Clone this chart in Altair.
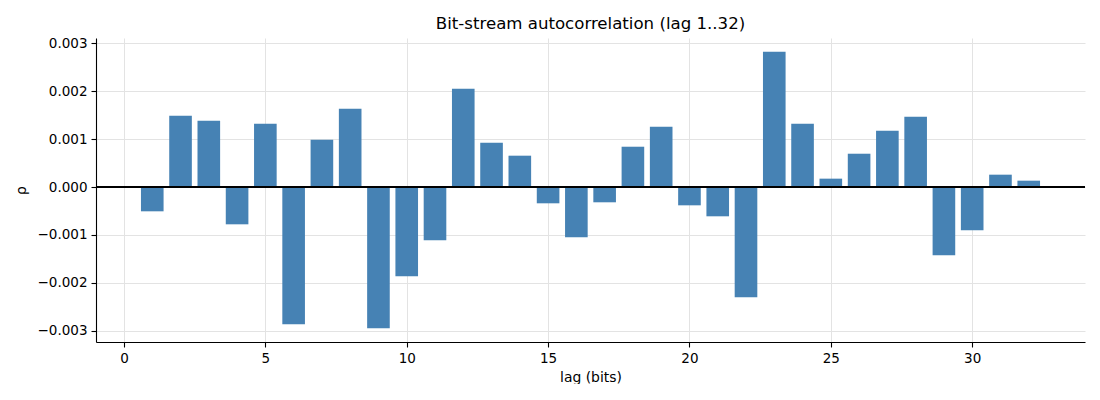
import altair as alt
import pandas as pd

lags = list(range(1, 33))
rho = [
    -0.000507, 0.001486, 0.001382, -0.000778, 0.001319, -0.002861, 0.000986, 0.001632,
    -0.002944, -0.001861, -0.001111, 0.002049, 0.000924, 0.000653, -0.000340, -0.001049,
    -0.000319, 0.000840, 0.001257, -0.000382, -0.000611, -0.002299, 0.002819, 0.001319,
    0.000174, 0.000694, 0.001174, 0.001465, -0.001424, -0.000903, 0.000257, 0.000132,
]

df = pd.DataFrame({"lag": lags, "rho": rho})

FONT = "DejaVu Sans"
x_scale = alt.Scale(domain=[-0.99, 33.99], nice=False, zero=False)
y_scale = alt.Scale(domain=[-0.003232, 0.003107], nice=False, zero=False)

bars = alt.Chart(df).transform_calculate(
    x0="datum.lag - 0.4", x1="datum.lag + 0.4"
).mark_rect(color="#4682b4").encode(
    x=alt.X("x0:Q", scale=x_scale,
            axis=alt.Axis(values=[0, 5, 10, 15, 20, 25, 30], title="lag (bits)", format="d")),
    x2="x1:Q",
    y=alt.Y("rho:Q", scale=y_scale,
            axis=alt.Axis(values=[-0.003, -0.002, -0.001, 0, 0.001, 0.002, 0.003],
                          format=".3f", title="ρ",
                          labelExpr="replace(format(datum.value, '.3f'), '-', '−')")),
    y2=alt.datum(0),
)

zero = alt.Chart(df).mark_rule(color="black", strokeWidth=0.8).encode(
    y=alt.datum(0)
)

chart = alt.layer(bars, zero).properties(
    width=989, height=304,
    title=alt.TitleParams("Bit-stream autocorrelation (lag 1..32)", fontSize=16.6,
                          font=FONT, fontWeight="normal", color="black", anchor="middle", offset=4),
    autosize=alt.AutoSizeParams(type="none"),
    padding={"left": 88, "top": 30, "right": 7, "bottom": 42},
).configure_view(stroke=None).configure_axis(
    labelFont=FONT, titleFont=FONT, labelFontSize=13.5, titleFontSize=13.9,
    labelColor="black", titleColor="black", titleFontWeight="normal",
    domainColor="black", domainWidth=1.1, tickColor="black", tickSize=5, tickWidth=1.1,
    gridColor="#e3e3e3", gridWidth=1, labelPadding=4,
).configure_axisY(titlePadding=9).configure_axisX(titlePadding=6)

chart.save("out.html", embed_options={"renderer": "svg", "actions": False})
